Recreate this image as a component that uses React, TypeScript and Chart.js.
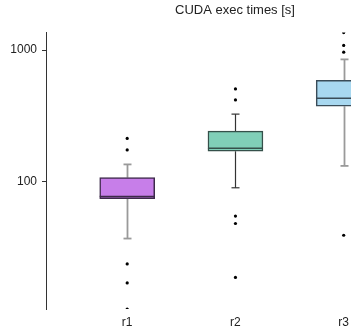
import React, { useEffect, useRef } from "react";
import { Chart, registerables } from "chart.js";

Chart.register(...registerables);

const categories = ["r1", "r2", "r3"];
const q1 = [74, 170, 374];
const median = [77, 179, 430];
const q3 = [107, 242, 589];
const whiskerLow = [36.8, 89.6, 131.5];
const whiskerHigh = [135, 326, 851];
const outliersR1 = [10.7, 16.9, 23.6, 174, 213];
const outliersR2 = [18.6, 47.9, 54.6, 418, 507];
const outliersR3 = [39, 966, 1086, 1361];
const yTickValues = [100, 1000];
const titleText = "CUDA exec times [s]";

const fillColors = ["#c77ee9", "#80cfb8", "#a8d8f0"];
const borderColors = ["#3d2a4a", "#35504a", "#3a4c58"];
const whiskerColors = ["#9a9a9a", "#333333", "#9a9a9a"];

const allOutliers = [outliersR1, outliersR2, outliersR3];
const allValues = [...whiskerLow, ...whiskerHigh, ...outliersR1, ...outliersR2, ...outliersR3];
const FONT = "'Liberation Sans', Arial, Helvetica, sans-serif";

const boxPlugin = {
  id: "boxWhiskers",
  beforeDatasetsDraw(chart: any) {
    const x = chart.scales.x;
    const y = chart.scales.y;
    const ctx = chart.ctx;
    ctx.save();
    categories.forEach((_, i) => {
      const cx = Math.round(x.getPixelForValue(i + 1)) + 0.5;
      ctx.strokeStyle = whiskerColors[i];
      ctx.lineWidth = i === 1 ? 1.2 : 1.8;
      const segs = [
        [q3[i], whiskerHigh[i]],
        [q1[i], whiskerLow[i]],
      ];
      segs.forEach(([a, b]) => {
        const ya = y.getPixelForValue(a);
        const yb = y.getPixelForValue(b);
        ctx.beginPath();
        ctx.moveTo(cx, ya);
        ctx.lineTo(cx, yb);
        ctx.stroke();
        ctx.beginPath();
        ctx.moveTo(cx - 4, yb);
        ctx.lineTo(cx + 4, yb);
        ctx.stroke();
      });
    });
    ctx.restore();
  },
  afterDatasetsDraw(chart: any) {
    const x = chart.scales.x;
    const y = chart.scales.y;
    const ctx = chart.ctx;
    ctx.save();
    categories.forEach((_, i) => {
      const cx = x.getPixelForValue(i + 1);
      const ym = y.getPixelForValue(median[i]);
      ctx.strokeStyle = borderColors[i];
      ctx.lineWidth = 1.5;
      ctx.beginPath();
      ctx.moveTo(cx - 27.5, ym);
      ctx.lineTo(cx + 27.5, ym);
      ctx.stroke();
    });
    ctx.restore();
  },
};

export default function App() {
  const ref = useRef<HTMLCanvasElement>(null);
  useEffect(() => {
    document.body.style.margin = "0";
    const outlierPoints: { x: number; y: number }[] = [];
    allOutliers.forEach((arr, i) => arr.forEach((v) => outlierPoints.push({ x: i + 1, y: v })));
    const chart = new Chart(ref.current as HTMLCanvasElement, {
      type: "bar",
      data: {
        datasets: [
          {
            type: "bar",
            data: categories.map((_, i) => ({ x: i + 1, y: [q1[i], q3[i]] })) as any,
            backgroundColor: fillColors,
            borderColor: borderColors,
            borderWidth: 1.5,
            borderSkipped: false,
            barThickness: 55,
          },
          {
            type: "scatter",
            data: outlierPoints as any,
            backgroundColor: "#000",
            borderColor: "#000",
            pointRadius: 1.6,
            borderWidth: 0,
          } as any,
        ],
      },
      options: {
        animation: false,
        responsive: false,
        layout: { padding: 0 },
        plugins: {
          legend: { display: false },
          tooltip: { enabled: false },
          title: {
            display: true,
            text: titleText,
            color: "#222",
            font: { family: FONT, size: 13, weight: "normal" },
            padding: { top: 3, bottom: 14 },
          },
        },
        scales: {
          x: {
            type: "linear",
            offset: false,
            min: 0.25,
            max: 0.25 + 419 / 108,
            grid: { display: false, drawTicks: false, offset: false },
            border: { display: false },
            ticks: {
              padding: 6,
              color: "#222",
              font: { family: FONT, size: 12 },
              callback: (v: any) => categories[Number(v) - 1] ?? "",
            },
            afterBuildTicks: (s: any) => {
              s.ticks = categories.map((_, i) => ({ value: i + 1 }));
            },
            afterFit: (s: any) => {
              s.height = 25;
            },
          },
          y: {
            type: "logarithmic",
            min: Math.min(...allValues),
            max: Math.max(...allValues),
            grid: { drawOnChartArea: false, drawTicks: true, tickLength: 4, color: "#333" },
            border: { display: true, color: "#333", width: 1 },
            ticks: {
              padding: 5,
              color: "#222",
              font: { family: FONT, size: 12 },
              callback: (v: any) => String(v),
            },
            afterBuildTicks: (s: any) => {
              s.ticks = yTickValues.map((v) => ({ value: v }));
            },
            afterFit: (s: any) => {
              s.width = 46;
            },
          },
        },
      },
      plugins: [boxPlugin],
    });
    return () => chart.destroy();
  }, []);
  return (
    <div style={{ width: 351, height: 334, overflow: "hidden", background: "#fff" }}>
      <canvas ref={ref} width={470} height={334} />
    </div>
  );
}
